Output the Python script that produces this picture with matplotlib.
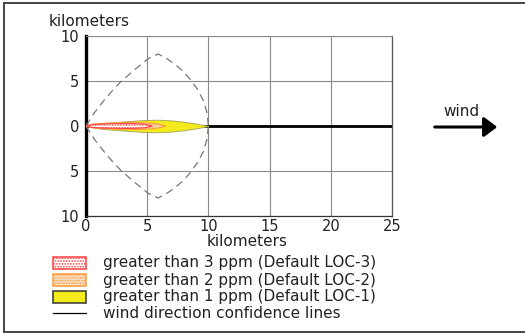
import matplotlib

matplotlib.use("Agg")
import matplotlib.pyplot as plt
from matplotlib.lines import Line2D
from matplotlib.patches import FancyArrowPatch, Rectangle

plt.rcParams["font.family"] = ["DejaVu Sans"]
plt.rcParams["hatch.linewidth"] = 0.8

INK = "#222222"

# threat zone footprints: downwind distance (km) and half-width (km)
red_x = [0, 0.5, 1, 2, 3, 4, 4.8, 5.4]
red_w = [0, 0.15, 0.2, 0.25, 0.27, 0.26, 0.2, 0]
orange_x = [0, 0.5, 1, 2, 3, 4, 5, 5.8, 6.5]
orange_w = [0, 0.2, 0.26, 0.33, 0.37, 0.38, 0.35, 0.25, 0]
yellow_x = [0, 1, 2, 3, 4, 5, 6, 7, 8, 9, 10]
yellow_w = [0, 0.27, 0.4, 0.5, 0.6, 0.68, 0.7, 0.62, 0.47, 0.27, 0]

# wind direction confidence outline (upper half, km)
conf_x = [0, 0.7, 1.5, 2.2, 2.9, 4.1, 5.1, 5.9, 6.7, 7.4, 8.0, 8.5, 9.1, 9.6, 9.9, 10.0]
conf_y = [0, 1.5, 2.9, 4.0, 5.0, 6.4, 7.5, 8.0, 7.4, 6.7, 6.0, 5.2, 4.1, 2.8, 1.4, 0]

x_ticks = [0, 5, 10, 15, 20, 25]
y_ticks = [-10, -5, 0, 5, 10]
y_tick_labels = ["10", "5", "0", "5", "10"]

legend_labels = [
    "greater than 3 ppm (Default LOC-3)",
    "greater than 2 ppm (Default LOC-2)",
    "greater than 1 ppm (Default LOC-1)",
    "wind direction confidence lines",
]

W, H = 525, 334


def fx(px):
    return px / W


def fy(py):
    return 1 - py / H


fig = plt.figure(figsize=(5.25, 3.34), dpi=100)
ax = fig.add_axes([fx(86), fy(216), fx(392) - fx(86), fy(36) - fy(216)])
ax.set_xlim(0, 25)
ax.set_ylim(-10, 10)

ax.set_xticks(x_ticks)
ax.set_yticks(y_ticks)
ax.set_yticklabels(y_tick_labels)
ax.tick_params(length=0, labelsize=10.5, labelcolor=INK)
ax.tick_params(axis="x", pad=2)
ax.tick_params(axis="y", pad=5)
ax.grid(True, color="#8a8a8a", linewidth=0.8, zorder=0)

ax.spines["left"].set_color("black")
ax.spines["left"].set_linewidth(2.4)
ax.spines["bottom"].set_color("#333333")
ax.spines["bottom"].set_linewidth(0.9)
ax.spines["top"].set_color("#8a8a8a")
ax.spines["top"].set_linewidth(0.8)
ax.spines["right"].set_color("#555555")
ax.spines["right"].set_linewidth(0.9)

# centre line along the wind
ax.plot([0, 25], [0, 0], color="black", linewidth=2.0, zorder=2, solid_capstyle="butt")

# confidence lines
ax.plot(conf_x, conf_y, color="#777777", linewidth=0.9, dashes=(6, 4), zorder=3)
ax.plot(conf_x, [-v for v in conf_y], color="#777777", linewidth=0.9, dashes=(6, 4), zorder=3)

# threat zones
ax.fill_between(yellow_x, [-v for v in yellow_w], yellow_w, facecolor="#f2ea1a",
                edgecolor="#a0a060", linewidth=0.6, zorder=4)
ax.fill_between(orange_x, [-v for v in orange_w], orange_w, facecolor="#fde0c4",
                edgecolor="#ff9a3c", hatch="......", linewidth=0.8, zorder=5)
ax.fill_between(red_x, [-v for v in red_w], red_w, facecolor="white",
                edgecolor="#ff4040", hatch="......", linewidth=0.8, zorder=6)

# axis titles
fig.text(fx(89), fy(21), "kilometers", ha="center", va="center", fontsize=11, color=INK)
fig.text(fx(247), fy(242), "kilometers", ha="center", va="center", fontsize=11, color=INK)

# wind arrow
fig.text(fx(461), fy(112), "wind", ha="center", va="center", fontsize=11, color=INK)
fig.add_artist(FancyArrowPatch((fx(432), fy(127)), (fx(500), fy(127)),
                               transform=fig.transFigure,
                               arrowstyle="-|>,head_length=0.8,head_width=0.6",
                               mutation_scale=10, color="black", linewidth=2.2))

# legend, drawn by hand
patch_styles = [
    dict(facecolor="white", edgecolor="#ff4040", hatch="......"),
    dict(facecolor="#fde0c4", edgecolor="#ff9a3c", hatch="......"),
    dict(facecolor="#f2ea1a", edgecolor="#333333"),
]
row_y = [263, 280, 297, 313]
for i, label in enumerate(legend_labels):
    y = row_y[i]
    if i < 3:
        fig.add_artist(Rectangle((fx(53), fy(y + 6)), fx(86) - fx(53), fy(y - 6) - fy(y + 6),
                                 transform=fig.transFigure, linewidth=1.1,
                                 **patch_styles[i]))
    else:
        fig.add_artist(Line2D([fx(53), fx(86)], [fy(y), fy(y)], color="black",
                              linewidth=0.9, transform=fig.transFigure))
    fig.text(fx(103), fy(y), label, ha="left", va="center", fontsize=11, color=INK)

# outer frame: left, top and bottom edges (right edge is cut off)
frame = dict(color="#444444", linewidth=1.4, transform=fig.transFigure)
fig.add_artist(Line2D([fx(4), fx(4)], [fy(3), fy(332)], **frame))
fig.add_artist(Line2D([fx(4), fx(525)], [fy(3), fy(3)], **frame))
fig.add_artist(Line2D([fx(4), fx(525)], [fy(332), fy(332)], **frame))

fig.savefig("out.png", dpi=100)
